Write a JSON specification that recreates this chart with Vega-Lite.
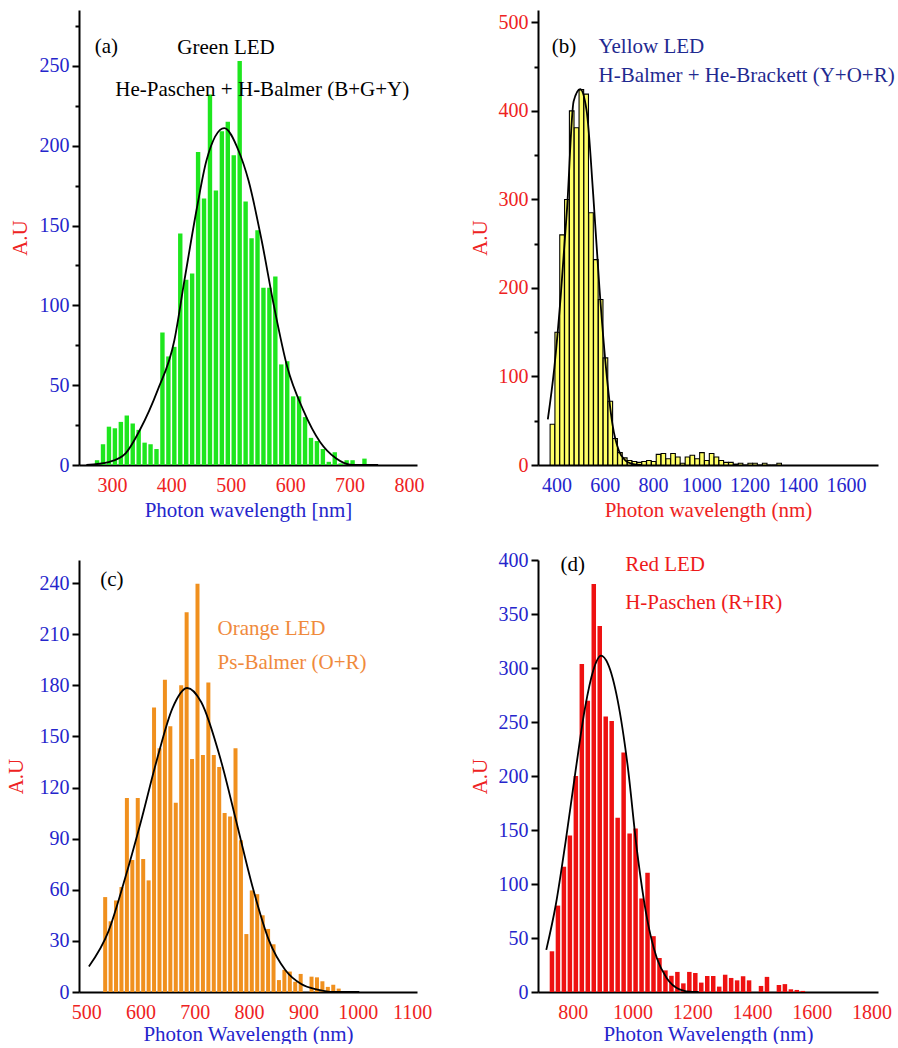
{
  "$schema": "https://vega.github.io/schema/vega-lite/v6.json",
  "background": "white",
  "padding": {"left": 5, "top": 10, "right": 0, "bottom": 0},
  "config": {
    "view": {"stroke": null},
    "font": "Liberation Serif",
    "axis": {
      "grid": false,
      "domainColor": "black",
      "domainWidth": 2,
      "tickColor": "black",
      "tickWidth": 2,
      "tickSize": 7,
      "labelPadding": 3,
      "labelFont": "Liberation Serif",
      "labelFontSize": 20,
      "labelOverlap": false,
      "labelFlush": false,
      "titleFont": "Liberation Serif",
      "titleFontSize": 21,
      "titleFontWeight": "normal"
    },
    "text": {"font": "Liberation Serif", "fontSize": 21}
  },
  "datasets": {
    "a_bars": [
      {"nm": 275, "au": 3}, {"nm": 285, "au": 13}, {"nm": 295, "au": 24}, {"nm": 305, "au": 23},
      {"nm": 315, "au": 27}, {"nm": 325, "au": 31}, {"nm": 335, "au": 26}, {"nm": 345, "au": 22},
      {"nm": 355, "au": 14}, {"nm": 365, "au": 13}, {"nm": 375, "au": 10}, {"nm": 385, "au": 83},
      {"nm": 395, "au": 68}, {"nm": 405, "au": 74}, {"nm": 415, "au": 145}, {"nm": 425, "au": 116},
      {"nm": 435, "au": 120}, {"nm": 445, "au": 196}, {"nm": 455, "au": 167}, {"nm": 465, "au": 232},
      {"nm": 475, "au": 172}, {"nm": 485, "au": 209}, {"nm": 495, "au": 215}, {"nm": 505, "au": 194},
      {"nm": 515, "au": 253}, {"nm": 525, "au": 165}, {"nm": 535, "au": 142}, {"nm": 545, "au": 147},
      {"nm": 555, "au": 111}, {"nm": 565, "au": 111}, {"nm": 575, "au": 118}, {"nm": 585, "au": 63},
      {"nm": 595, "au": 65}, {"nm": 605, "au": 43}, {"nm": 615, "au": 43}, {"nm": 625, "au": 30},
      {"nm": 635, "au": 17}, {"nm": 645, "au": 15}, {"nm": 655, "au": 10}, {"nm": 665, "au": 2},
      {"nm": 675, "au": 8}, {"nm": 685, "au": 1}, {"nm": 695, "au": 3}, {"nm": 705, "au": 3},
      {"nm": 715, "au": 0}, {"nm": 725, "au": 4}
    ],
    "a_fit": [
      {"nm": 257, "au": 0}, {"nm": 296, "au": 2}, {"nm": 323, "au": 7.3}, {"nm": 347, "au": 21.9},
      {"nm": 377, "au": 46.9}, {"nm": 405, "au": 78}, {"nm": 422, "au": 115.6}, {"nm": 443, "au": 161},
      {"nm": 459, "au": 190.6}, {"nm": 489, "au": 211}, {"nm": 513, "au": 197}, {"nm": 530, "au": 178},
      {"nm": 552, "au": 140.6}, {"nm": 573, "au": 99}, {"nm": 595, "au": 61.5}, {"nm": 622, "au": 34.4},
      {"nm": 650, "au": 14.6}, {"nm": 677, "au": 4.2}, {"nm": 704, "au": 0}, {"nm": 748, "au": 0}
    ],
    "b_bars": [
      {"nm": 383, "au": 46}, {"nm": 403, "au": 150}, {"nm": 423, "au": 260}, {"nm": 443, "au": 300},
      {"nm": 463, "au": 400}, {"nm": 483, "au": 381}, {"nm": 503, "au": 424}, {"nm": 523, "au": 419},
      {"nm": 543, "au": 285}, {"nm": 563, "au": 232}, {"nm": 583, "au": 187}, {"nm": 603, "au": 121},
      {"nm": 623, "au": 72}, {"nm": 643, "au": 30}, {"nm": 663, "au": 14}, {"nm": 683, "au": 8},
      {"nm": 703, "au": 5}, {"nm": 723, "au": 4}, {"nm": 743, "au": 3}, {"nm": 763, "au": 4},
      {"nm": 783, "au": 5}, {"nm": 803, "au": 4}, {"nm": 823, "au": 12}, {"nm": 843, "au": 13},
      {"nm": 863, "au": 7}, {"nm": 883, "au": 13}, {"nm": 903, "au": 9}, {"nm": 923, "au": 2},
      {"nm": 943, "au": 9}, {"nm": 963, "au": 11}, {"nm": 983, "au": 7}, {"nm": 1003, "au": 14},
      {"nm": 1023, "au": 5}, {"nm": 1043, "au": 13}, {"nm": 1063, "au": 9}, {"nm": 1083, "au": 5},
      {"nm": 1103, "au": 3}, {"nm": 1123, "au": 3}, {"nm": 1143, "au": 1}, {"nm": 1163, "au": 2},
      {"nm": 1183, "au": 0}, {"nm": 1203, "au": 2}, {"nm": 1223, "au": 2}, {"nm": 1243, "au": 0},
      {"nm": 1263, "au": 2}, {"nm": 1283, "au": 0}, {"nm": 1303, "au": 0}, {"nm": 1323, "au": 2}
    ],
    "b_fit": [
      {"nm": 364, "au": 51.6}, {"nm": 391, "au": 110}, {"nm": 417, "au": 189}, {"nm": 444, "au": 290.8},
      {"nm": 471, "au": 411}, {"nm": 498, "au": 424.5}, {"nm": 525, "au": 400}, {"nm": 552, "au": 306},
      {"nm": 578, "au": 200}, {"nm": 605, "au": 110}, {"nm": 632, "au": 46}, {"nm": 659, "au": 15.8},
      {"nm": 686, "au": 5}, {"nm": 713, "au": 1.3}, {"nm": 753, "au": 0}
    ],
    "c_bars": [
      {"nm": 535, "au": 55.7}, {"nm": 545, "au": 41.5}, {"nm": 555, "au": 53.7}, {"nm": 565, "au": 61.6},
      {"nm": 575, "au": 113.8}, {"nm": 585, "au": 77.4}, {"nm": 595, "au": 113.8}, {"nm": 605, "au": 78},
      {"nm": 615, "au": 65.5}, {"nm": 625, "au": 167}, {"nm": 635, "au": 143}, {"nm": 645, "au": 183.3},
      {"nm": 655, "au": 156}, {"nm": 665, "au": 111}, {"nm": 675, "au": 180}, {"nm": 685, "au": 222.8},
      {"nm": 695, "au": 136.7}, {"nm": 705, "au": 239.6}, {"nm": 715, "au": 139}, {"nm": 725, "au": 181.6},
      {"nm": 735, "au": 139}, {"nm": 745, "au": 132}, {"nm": 755, "au": 105}, {"nm": 765, "au": 103},
      {"nm": 775, "au": 143}, {"nm": 785, "au": 89}, {"nm": 795, "au": 34}, {"nm": 805, "au": 59.6},
      {"nm": 815, "au": 57.4}, {"nm": 825, "au": 45}, {"nm": 835, "au": 37}, {"nm": 845, "au": 28},
      {"nm": 855, "au": 7}, {"nm": 865, "au": 13}, {"nm": 875, "au": 12}, {"nm": 885, "au": 6},
      {"nm": 895, "au": 10.6}, {"nm": 905, "au": 0}, {"nm": 915, "au": 9}, {"nm": 925, "au": 8.6},
      {"nm": 935, "au": 6.3}, {"nm": 945, "au": 3}, {"nm": 955, "au": 4.2}, {"nm": 965, "au": 2}
    ],
    "c_fit": [
      {"nm": 505, "au": 15}, {"nm": 541, "au": 35.6}, {"nm": 571, "au": 66}, {"nm": 600, "au": 99},
      {"nm": 630, "au": 136}, {"nm": 659, "au": 166.6}, {"nm": 686, "au": 178.4}, {"nm": 712, "au": 170},
      {"nm": 748, "au": 136}, {"nm": 778, "au": 98}, {"nm": 807, "au": 61}, {"nm": 837, "au": 30},
      {"nm": 867, "au": 12.8}, {"nm": 896, "au": 4.7}, {"nm": 926, "au": 1.4}, {"nm": 955, "au": 0},
      {"nm": 1003, "au": 0}
    ],
    "d_bars": [
      {"nm": 730, "au": 37.7}, {"nm": 750, "au": 80}, {"nm": 770, "au": 116}, {"nm": 790, "au": 145},
      {"nm": 810, "au": 200}, {"nm": 830, "au": 303.6}, {"nm": 850, "au": 269.7}, {"nm": 870, "au": 377.8},
      {"nm": 890, "au": 339}, {"nm": 910, "au": 255}, {"nm": 930, "au": 251}, {"nm": 950, "au": 161.4},
      {"nm": 970, "au": 221.7}, {"nm": 990, "au": 146.8}, {"nm": 1010, "au": 151.5}, {"nm": 1030, "au": 86.6},
      {"nm": 1050, "au": 110.4}, {"nm": 1070, "au": 51.7}, {"nm": 1090, "au": 31.5}, {"nm": 1110, "au": 20},
      {"nm": 1130, "au": 15}, {"nm": 1150, "au": 18.6}, {"nm": 1170, "au": 8}, {"nm": 1190, "au": 18.6},
      {"nm": 1210, "au": 17.6}, {"nm": 1230, "au": 8.7}, {"nm": 1250, "au": 14.8}, {"nm": 1270, "au": 14.8},
      {"nm": 1290, "au": 5}, {"nm": 1310, "au": 16}, {"nm": 1330, "au": 13}, {"nm": 1350, "au": 10.8},
      {"nm": 1370, "au": 14.6}, {"nm": 1390, "au": 10.8}, {"nm": 1410, "au": 0}, {"nm": 1430, "au": 5.6},
      {"nm": 1450, "au": 14}, {"nm": 1470, "au": 0}, {"nm": 1490, "au": 6.5}, {"nm": 1510, "au": 7.3},
      {"nm": 1530, "au": 2.5}, {"nm": 1550, "au": 1.9}, {"nm": 1570, "au": 1}
    ],
    "d_fit": [
      {"nm": 711, "au": 39}, {"nm": 743, "au": 81}, {"nm": 776, "au": 139.8}, {"nm": 809, "au": 204.7},
      {"nm": 841, "au": 263.5}, {"nm": 868, "au": 297.5}, {"nm": 894, "au": 311.4}, {"nm": 917, "au": 304},
      {"nm": 950, "au": 270}, {"nm": 983, "au": 210.5}, {"nm": 1015, "au": 130.5}, {"nm": 1048, "au": 68.6},
      {"nm": 1081, "au": 31.5}, {"nm": 1114, "au": 13}, {"nm": 1157, "au": 2.5}, {"nm": 1200, "au": 0},
      {"nm": 1221, "au": 0}
    ]
  },
  "columns": 2,
  "spacing": {"column": 37, "row": 30},
  "concat": [
    {
      "width": 338,
      "height": 455,
      "layer": [
        {
          "data": {"name": "a_bars"},
          "mark": {"type": "bar", "width": 4.4, "color": "#1ee61e"},
          "encoding": {
            "x": {"field": "nm", "type": "quantitative",
              "scale": {"domain": [253, 805], "nice": false, "zero": false},
              "axis": {"title": "Photon wavelength [nm]", "titleColor": "#2525cc", "labelColor": "#ee2222",
                "format": "d", "labelOverlap": false,
                "values": [300, 350, 400, 450, 500, 550, 600, 650, 700, 750, 800],
                "labelExpr": "datum.value % 100 === 0 ? datum.label : ''",
                "tickOpacity": {"condition": {"test": "datum.value % 100 === 0", "value": 0}, "value": 1}}},
            "y": {"field": "au", "type": "quantitative",
              "scale": {"domain": [0, 285], "nice": false},
              "axis": {"title": "A.U", "titleColor": "#ee2222", "labelColor": "#2525cc", "titlePadding": 9,
                "format": "d", "labelOverlap": false,
                "values": [0, 25, 50, 75, 100, 125, 150, 175, 200, 225, 250, 275],
                "labelExpr": "datum.value % 50 === 0 ? datum.label : ''",
                "tickSize": {"condition": {"test": "datum.value % 50 === 0", "value": 7}, "value": 4}}}
          }
        },
        {
          "data": {"name": "a_fit"},
          "mark": {"type": "line", "color": "black", "strokeWidth": 1.8, "interpolate": "monotone"},
          "encoding": {"x": {"field": "nm", "type": "quantitative"}, "y": {"field": "au", "type": "quantitative"}}
        },
        {
          "data": {"values": [{}]},
          "mark": {"type": "text", "align": "left", "baseline": "middle", "color": "black"},
          "encoding": {"x": {"datum": 271, "type": "quantitative"}, "y": {"datum": 262, "type": "quantitative"}, "text": {"value": "(a)"}}
        },
        {
          "data": {"values": [{}]},
          "mark": {"type": "text", "align": "center", "baseline": "middle", "color": "black"},
          "encoding": {"x": {"datum": 492, "type": "quantitative"}, "y": {"datum": 261, "type": "quantitative"}, "text": {"value": "Green LED"}}
        },
        {
          "data": {"values": [{}]},
          "mark": {"type": "text", "align": "center", "baseline": "middle", "color": "black"},
          "encoding": {"x": {"datum": 553, "type": "quantitative"}, "y": {"datum": 235, "type": "quantitative"}, "text": {"value": "He-Paschen + H-Balmer (B+G+Y)"}}
        }
      ]
    },
    {
      "width": 340,
      "height": 455,
      "layer": [
        {
          "data": {"name": "b_bars"},
          "mark": {"type": "bar", "width": 4.6, "color": "#ffff66", "stroke": "black", "strokeWidth": 1.1},
          "encoding": {
            "x": {"field": "nm", "type": "quantitative",
              "scale": {"domain": [344, 1712], "nice": false, "zero": false},
              "axis": {"title": "Photon wavelength (nm)", "titleColor": "#ee2222", "labelColor": "#2525cc",
                "format": "d", "labelOverlap": false,
                "values": [400, 500, 600, 700, 800, 900, 1000, 1100, 1200, 1300, 1400, 1500, 1600, 1700],
                "labelExpr": "datum.value % 200 === 0 ? datum.label : ''",
                "tickOpacity": {"condition": {"test": "datum.value % 200 === 0 || datum.value < 650", "value": 0}, "value": 1}}},
            "y": {"field": "au", "type": "quantitative",
              "scale": {"domain": [0, 514], "nice": false},
              "axis": {"title": "A.U", "titleColor": "#ee2222", "labelColor": "#ee2222", "titlePadding": 8,
                "format": "d", "labelOverlap": false,
                "values": [0, 50, 100, 150, 200, 250, 300, 350, 400, 450, 500],
                "labelExpr": "datum.value % 100 === 0 ? datum.label : ''",
                "tickSize": {"condition": {"test": "datum.value % 100 === 0", "value": 7}, "value": 4}}}
          }
        },
        {
          "data": {"name": "b_fit"},
          "mark": {"type": "line", "color": "black", "strokeWidth": 1.8, "interpolate": "monotone"},
          "encoding": {"x": {"field": "nm", "type": "quantitative"}, "y": {"field": "au", "type": "quantitative"}}
        },
        {
          "data": {"values": [{}]},
          "mark": {"type": "text", "align": "left", "baseline": "middle", "color": "black"},
          "encoding": {"x": {"datum": 380, "type": "quantitative"}, "y": {"datum": 472, "type": "quantitative"}, "text": {"value": "(b)"}}
        },
        {
          "data": {"values": [{}]},
          "mark": {"type": "text", "align": "left", "baseline": "middle", "color": "#1f2a90"},
          "encoding": {"x": {"datum": 574, "type": "quantitative"}, "y": {"datum": 472, "type": "quantitative"}, "text": {"value": "Yellow LED"}}
        },
        {
          "data": {"values": [{}]},
          "mark": {"type": "text", "align": "left", "baseline": "middle", "color": "#1f2a90"},
          "encoding": {"x": {"datum": 574, "type": "quantitative"}, "y": {"datum": 440, "type": "quantitative"}, "text": {"value": "H-Balmer + He-Brackett (Y+O+R)"}}
        }
      ]
    },
    {
      "width": 338,
      "height": 432,
      "layer": [
        {
          "data": {"name": "c_bars"},
          "mark": {"type": "bar", "width": 4, "color": "#f0901e"},
          "encoding": {
            "x": {"field": "nm", "type": "quantitative",
              "scale": {"domain": [496, 1100], "nice": false, "zero": false},
              "axis": {"title": "Photon Wavelength (nm)", "titleColor": "#2525cc", "labelColor": "#ee2222",
                "format": "d", "labelOverlap": false, "titlePadding": 1,
                "values": [500, 550, 600, 650, 700, 750, 800, 850, 900, 950, 1000, 1050, 1100],
                "labelExpr": "datum.value % 100 === 0 ? datum.label : ''",
                "tickOpacity": {"condition": {"test": "datum.value % 100 === 0", "value": 0}, "value": 1}}},
            "y": {"field": "au", "type": "quantitative",
              "scale": {"domain": [0, 253.5], "nice": false},
              "axis": {"title": "A.U", "titleColor": "#ee2222", "labelColor": "#2525cc", "titlePadding": 13,
                "format": "d", "labelOverlap": false,
                "values": [0, 15, 30, 45, 60, 75, 90, 105, 120, 135, 150, 165, 180, 195, 210, 225, 240],
                "labelExpr": "datum.value % 30 === 0 ? datum.label : ''",
                "tickSize": {"condition": {"test": "datum.value % 30 === 0", "value": 7}, "value": 4}}}
          }
        },
        {
          "data": {"name": "c_fit"},
          "mark": {"type": "line", "color": "black", "strokeWidth": 1.8, "interpolate": "monotone"},
          "encoding": {"x": {"field": "nm", "type": "quantitative"}, "y": {"field": "au", "type": "quantitative"}}
        },
        {
          "data": {"values": [{}]},
          "mark": {"type": "text", "align": "left", "baseline": "middle", "color": "black"},
          "encoding": {"x": {"datum": 526, "type": "quantitative"}, "y": {"datum": 242, "type": "quantitative"}, "text": {"value": "(c)"}}
        },
        {
          "data": {"values": [{}]},
          "mark": {"type": "text", "align": "left", "baseline": "middle", "color": "#f08a3c"},
          "encoding": {"x": {"datum": 742, "type": "quantitative"}, "y": {"datum": 213, "type": "quantitative"}, "text": {"value": "Orange LED"}}
        },
        {
          "data": {"values": [{}]},
          "mark": {"type": "text", "align": "left", "baseline": "middle", "color": "#f08a3c"},
          "encoding": {"x": {"datum": 742, "type": "quantitative"}, "y": {"datum": 193, "type": "quantitative"}, "text": {"value": "Ps-Balmer (O+R)"}}
        }
      ]
    },
    {
      "width": 340,
      "height": 432,
      "layer": [
        {
          "data": {"name": "d_bars"},
          "mark": {"type": "bar", "width": 4.5, "color": "#ee1111"},
          "encoding": {
            "x": {"field": "nm", "type": "quantitative",
              "scale": {"domain": [700, 1805], "nice": false, "zero": false},
              "axis": {"title": "Photon Wavelength (nm)", "titleColor": "#2525cc", "labelColor": "#ee2222",
                "format": "d", "labelOverlap": false, "titlePadding": 1,
                "values": [800, 900, 1000, 1100, 1200, 1300, 1400, 1500, 1600, 1700, 1800],
                "labelExpr": "datum.value % 200 === 0 ? datum.label : ''",
                "tickOpacity": {"condition": {"test": "datum.value % 200 === 0", "value": 0}, "value": 1}}},
            "y": {"field": "au", "type": "quantitative",
              "scale": {"domain": [0, 400], "nice": false},
              "axis": {"title": "A.U", "titleColor": "#ee2222", "labelColor": "#2525cc", "titlePadding": 8,
                "format": "d", "labelOverlap": false,
                "values": [0, 25, 50, 75, 100, 125, 150, 175, 200, 225, 250, 275, 300, 325, 350, 375, 400],
                "labelExpr": "datum.value % 50 === 0 ? datum.label : ''",
                "tickSize": {"condition": {"test": "datum.value % 50 === 0", "value": 7}, "value": 4}}}
          }
        },
        {
          "data": {"name": "d_fit"},
          "mark": {"type": "line", "color": "black", "strokeWidth": 1.8, "interpolate": "monotone"},
          "encoding": {"x": {"field": "nm", "type": "quantitative"}, "y": {"field": "au", "type": "quantitative"}}
        },
        {
          "data": {"values": [{}]},
          "mark": {"type": "text", "align": "left", "baseline": "middle", "color": "black"},
          "encoding": {"x": {"datum": 759, "type": "quantitative"}, "y": {"datum": 395, "type": "quantitative"}, "text": {"value": "(d)"}}
        },
        {
          "data": {"values": [{}]},
          "mark": {"type": "text", "align": "left", "baseline": "middle", "color": "#ee1a1a"},
          "encoding": {"x": {"datum": 975, "type": "quantitative"}, "y": {"datum": 395, "type": "quantitative"}, "text": {"value": "Red LED"}}
        },
        {
          "data": {"values": [{}]},
          "mark": {"type": "text", "align": "left", "baseline": "middle", "color": "#ee1a1a"},
          "encoding": {"x": {"datum": 975, "type": "quantitative"}, "y": {"datum": 360, "type": "quantitative"}, "text": {"value": "H-Paschen (R+IR)"}}
        }
      ]
    }
  ]
}
